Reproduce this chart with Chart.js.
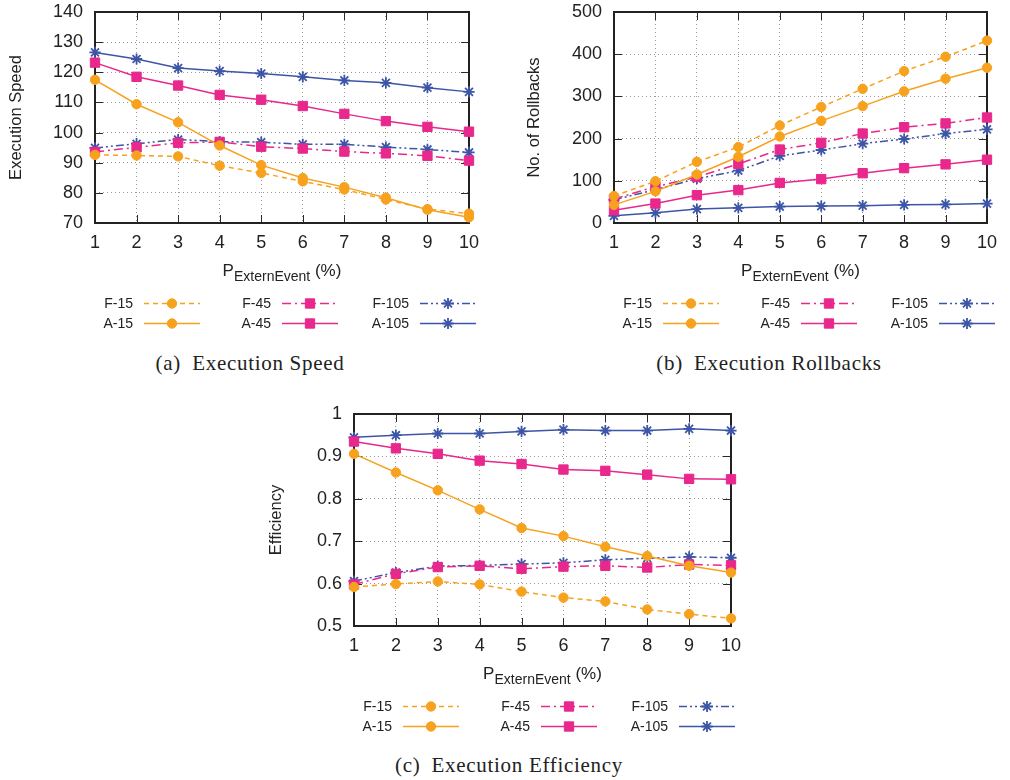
<!DOCTYPE html>
<html>
<head>
<meta charset="utf-8">
<script src="https://cdn.jsdelivr.net/npm/chart.js@4/dist/chart.umd.min.js"></script>
<style>
  html, body { margin: 0; padding: 0; background: #fff; }
  #page { position: relative; width: 1010px; height: 780px; overflow: hidden; }
  .panel { position: absolute; }
  .caption {
    position: absolute; transform: translate(-50%, -50%);
    font-family: "Liberation Serif", "DejaVu Serif", serif; font-size: 21px;
    letter-spacing: 0.7px; color: #222; white-space: nowrap;
  }
</style>
</head>
<body>
<div id="page">
  <canvas id="speed" class="panel" width="480" height="340" style="left:0px;top:0px;"></canvas>
  <canvas id="rollbacks" class="panel" width="510" height="340" style="left:500px;top:0px;"></canvas>
  <canvas id="efficiency" class="panel" width="500" height="340" style="left:250px;top:400px;"></canvas>
  <div class="caption" style="left:250px;top:363px;">(a)&ensp;Execution Speed</div>
  <div class="caption" style="left:769px;top:363px;">(b)&ensp;Execution Rollbacks</div>
  <div class="caption" style="left:509px;top:765px;">(c)&ensp;Execution Efficiency</div>
</div>
<script>
// P_ExternEvent in percent
const pExtern = [1, 2, 3, 4, 5, 6, 7, 8, 9, 10];
const seriesNames = ['F-15', 'A-15', 'F-45', 'A-45', 'F-105', 'A-105'];

// Execution speed
const speedF15  = [92.6, 92.4, 92.1, 89.0, 86.6, 83.8, 81.1, 77.8, 74.6, 73.1];
const speedA15  = [117.5, 109.4, 103.4, 95.7, 89.2, 84.9, 81.9, 78.4, 74.4, 71.9];
const speedF45  = [93.6, 95.1, 96.6, 96.9, 95.3, 94.7, 93.7, 93.1, 92.3, 90.7];
const speedA45  = [123.2, 118.5, 115.6, 112.5, 110.9, 108.8, 106.2, 103.8, 101.9, 100.3];
const speedF105 = [94.9, 96.3, 97.7, 97.0, 96.8, 96.1, 96.1, 95.2, 94.4, 93.4];
const speedA105 = [126.6, 124.4, 121.4, 120.4, 119.6, 118.5, 117.3, 116.5, 114.9, 113.5];

// Number of rollbacks
const rbF15  = [64, 99, 145, 180, 231, 275, 318, 360, 394, 432];
const rbA15  = [43, 75, 115, 157, 205, 242, 277, 312, 342, 368];
const rbF45  = [57, 86, 109, 140, 174, 190, 212, 227, 236, 250];
const rbA45  = [30, 46, 66, 78, 95, 104, 118, 130, 139, 150];
const rbF105 = [55, 79, 105, 124, 159, 173, 188, 199, 212, 222];
const rbA105 = [17, 24, 33, 36, 39, 40, 41, 43, 44, 46];

// Efficiency
const effF15  = [0.592, 0.599, 0.605, 0.598, 0.581, 0.567, 0.558, 0.539, 0.528, 0.518];
const effA15  = [0.906, 0.862, 0.820, 0.775, 0.731, 0.712, 0.687, 0.665, 0.642, 0.626];
const effF45  = [0.598, 0.623, 0.639, 0.642, 0.635, 0.640, 0.642, 0.638, 0.645, 0.643];
const effA45  = [0.935, 0.919, 0.906, 0.890, 0.882, 0.869, 0.866, 0.857, 0.847, 0.846];
const effF105 = [0.606, 0.626, 0.641, 0.643, 0.646, 0.649, 0.656, 0.660, 0.663, 0.661];
const effA105 = [0.945, 0.950, 0.954, 0.954, 0.959, 0.963, 0.961, 0.961, 0.965, 0.961];

const ORANGE = '#f7a21e';
const PINK = '#e8288c';
const BLUE = '#3d55a6';
const SANS = '"Liberation Sans", Arial, Helvetica, sans-serif';

// line / marker look for each of the six series
const styles = [
  { color: ORANGE, dash: [5, 4],               point: 'circle', radius: 4.7 },
  { color: ORANGE, dash: [],                   point: 'circle', radius: 4.7 },
  { color: PINK,   dash: [9, 4, 2, 4],         point: 'rect',   radius: 6.6 },
  { color: PINK,   dash: [],                   point: 'rect',   radius: 6.6 },
  { color: BLUE,   dash: [8, 3, 2, 3, 2, 3],   point: 'star',   radius: 5.6 },
  { color: BLUE,   dash: [],                   point: 'star',   radius: 5.6 }
];

function makeDatasets(values) {
  return values.map((v, i) => {
    const s = styles[i];
    return {
      label: seriesNames[i],
      data: v,
      borderColor: s.color,
      backgroundColor: s.color,
      borderWidth: 1.5,
      borderDash: s.dash,
      pointStyle: s.point,
      pointRadius: s.radius,
      pointHoverRadius: s.radius,
      pointBorderWidth: s.point === 'star' ? 1.8 : 1,
      pointBorderColor: s.color,
      pointBackgroundColor: s.color,
      tension: 0,
      clip: false
    };
  });
}

// gnuplot-style frame with inward tick marks on all four sides
const framePlugin = {
  id: 'frame',
  beforeDatasetsDraw(chart) {
    const { ctx, chartArea: a, scales } = chart;
    const L = 8;
    ctx.save();
    ctx.strokeStyle = '#2a2a2a';
    ctx.lineWidth = 1;
    ctx.beginPath();
    scales.x.ticks.forEach(t => {
      const x = Math.round(scales.x.getPixelForValue(t.value)) + 0.5;
      ctx.moveTo(x, a.bottom); ctx.lineTo(x, a.bottom - L);
      ctx.moveTo(x, a.top); ctx.lineTo(x, a.top + L);
    });
    scales.y.ticks.forEach(t => {
      const y = Math.round(scales.y.getPixelForValue(t.value)) + 0.5;
      ctx.moveTo(a.left, y); ctx.lineTo(a.left + L, y);
      ctx.moveTo(a.right, y); ctx.lineTo(a.right - L, y);
    });
    ctx.stroke();
    ctx.lineWidth = 2;
    ctx.strokeStyle = '#222';
    ctx.strokeRect(a.left, a.top, a.right - a.left, a.bottom - a.top);
    ctx.restore();
  }
};

// x-axis title with subscript, and the two-row key under the plot
const keyPlugin = {
  id: 'key',
  afterDraw(chart) {
    const { ctx, chartArea: a } = chart;
    ctx.save();
    // axis title: P_ExternEvent (%)
    const big = '17px ' + SANS, small = '14px ' + SANS;
    ctx.fillStyle = '#222';
    ctx.textBaseline = 'alphabetic';
    ctx.font = big;  const wP = ctx.measureText('P').width;
    const wR = ctx.measureText(' (%)').width;
    ctx.font = small; const wS = ctx.measureText('ExternEvent').width;
    let x = (a.left + a.right) / 2 - (wP + wS + wR) / 2;
    const base = a.bottom + 53;
    ctx.textAlign = 'left';
    ctx.font = big;   ctx.fillText('P', x, base); x += wP;
    ctx.font = small; ctx.fillText('ExternEvent', x, base + 5); x += wS;
    ctx.font = big;   ctx.fillText(' (%)', x, base);

    // key
    ctx.font = '14px ' + SANS;
    ctx.textBaseline = 'middle';
    chart.data.datasets.forEach((ds, i) => {
      const col = Math.floor(i / 2), row = i % 2;
      const labelRight = a.left + 38 + col * 138;
      const y = Math.round(a.bottom + 80 + row * 19.5) + 0.5;
      const x0 = labelRight + 11, x1 = x0 + 56;
      ctx.fillStyle = '#222';
      ctx.textAlign = 'right';
      ctx.fillText(ds.label, labelRight, y + 1);
      ctx.strokeStyle = ds.borderColor;
      ctx.lineWidth = 1.5;
      ctx.setLineDash(ds.borderDash);
      ctx.beginPath(); ctx.moveTo(x0, y); ctx.lineTo(x1, y); ctx.stroke();
      ctx.setLineDash([]);
      ctx.fillStyle = ds.backgroundColor;
      ctx.strokeStyle = ds.borderColor;
      ctx.lineWidth = ds.pointBorderWidth;
      Chart.helpers.drawPoint(ctx, {
        pointStyle: ds.pointStyle, radius: ds.pointRadius, rotation: 0,
        borderWidth: ds.pointBorderWidth
      }, (x0 + x1) / 2, y);
    });
    ctx.restore();
  }
};

function buildChart(id, values, cfg) {
  return new Chart(document.getElementById(id), {
    type: 'line',
    data: { labels: pExtern, datasets: makeDatasets(values) },
    plugins: [framePlugin, keyPlugin],
    options: {
      responsive: false,
      animation: false,
      devicePixelRatio: 1,
      events: [],
      layout: { padding: cfg.padding },
      plugins: { legend: { display: false }, tooltip: { enabled: false } },
      scales: {
        x: {
          type: 'linear', min: 1, max: 10,
          afterFit: s => { s.height = 30; s.paddingLeft = 0; s.paddingRight = 0; },
          grid: { color: '#9a9a9a', lineWidth: 1, drawTicks: false },
          border: { display: false, dash: [1, 3] },
          ticks: {
            stepSize: 1, padding: 9, color: '#222',
            font: { family: SANS, size: 18 },
            callback: v => String(v)
          }
        },
        y: {
          min: cfg.min, max: cfg.max,
          afterFit: s => { s.width = cfg.yWidth; s.paddingTop = 0; s.paddingBottom = 0; },
          grid: { color: '#9a9a9a', lineWidth: 1, drawTicks: false },
          border: { display: false, dash: [1, 3] },
          title: {
            display: true, text: cfg.title, color: '#222',
            font: { family: SANS, size: 16.5 },
            padding: { top: cfg.titlePad, bottom: 0 }
          },
          ticks: {
            stepSize: cfg.step, padding: 12, color: '#222',
            font: { family: SANS, size: 18 },
            callback: v => String(+v.toFixed(2))
          }
        }
      }
    }
  });
}

buildChart('speed',
  [speedF15, speedA15, speedF45, speedA45, speedF105, speedA105],
  { min: 70, max: 140, step: 10, title: 'Execution Speed', yWidth: 95, titlePad: 7,
    padding: { top: 12, right: 11, bottom: 87, left: 0 } });

buildChart('rollbacks',
  [rbF15, rbA15, rbF45, rbA45, rbF105, rbA105],
  { min: 0, max: 500, step: 100, title: 'No. of Rollbacks', yWidth: 114, titlePad: 25,
    padding: { top: 12, right: 23, bottom: 87, left: 0 } });

buildChart('efficiency',
  [effF15, effA15, effF45, effA45, effF105, effA105],
  { min: 0.5, max: 1, step: 0.1, title: 'Efficiency', yWidth: 104, titlePad: 17,
    padding: { top: 14, right: 19, bottom: 84, left: 0 } });
</script>
</body>
</html>
